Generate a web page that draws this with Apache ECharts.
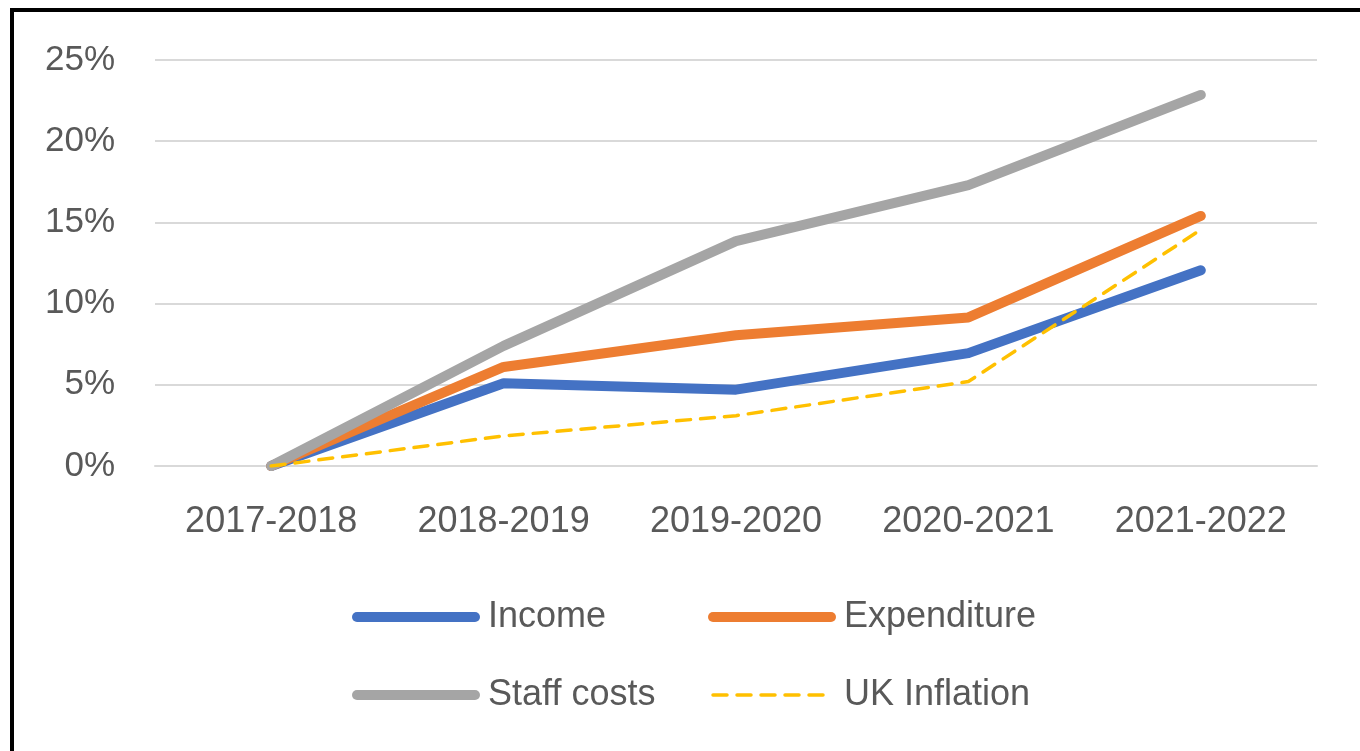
<!DOCTYPE html>
<html>
<head>
<meta charset="utf-8">
<script src="https://cdn.jsdelivr.net/npm/echarts@6/dist/echarts.min.js"></script>
<style>
  html, body { margin: 0; padding: 0; background: #fff; }
  #main { position: absolute; left: 0; top: 0; width: 1360px; height: 751px; }
  #frame { position: absolute; left: 10px; top: 8px; width: 1400px; height: 800px;
    border-left: 4px solid #000; border-top: 4px solid #000; pointer-events: none; }
</style>
</head>
<body>
<div id="main"></div>
<div id="frame"></div>
<script>
// years and % change since 2017-2018
const years = ['2017-2018', '2018-2019', '2019-2020', '2020-2021', '2021-2022']
const income = [0, 5.1, 4.7, 6.95, 12.05]
const expenditure = [0, 6.1, 8.05, 9.15, 15.4]
const staffCosts = [0, 7.4, 13.85, 17.3, 22.85]
const ukInflation = [0, 1.85, 3.1, 5.2, 14.55]

const labelFont = { fontFamily: 'Liberation Sans', fontSize: 36, color: '#595959' }

const myChart = echarts.init(document.getElementById('main'))

function lineSeries (name, data, color, width, type) {
  return {
    name: name,
    type: 'line',
    data: data,
    symbol: 'none',
    color: color,
    lineStyle: { width: width, color: color, type: type, cap: 'round', join: 'round' }
  }
}

const legendBase = {
  orient: 'vertical',
  top: 594,
  itemWidth: 118,
  itemHeight: 44,
  itemGap: 42,
  itemStyle: { opacity: 0, borderWidth: 0 },
  lineStyle: { width: 'inherit', type: 'inherit', cap: 'round' },
  textStyle: Object.assign({ padding: [0, 0, 0, 8] }, labelFont),
  selectedMode: false
}

const option = {
  animation: false,
  grid: { left: 155, right: 43, top: 60, bottom: 285 },
  legend: [
    Object.assign({ left: 347, data: ['Income', 'Staff costs'] }, legendBase),
    Object.assign({ left: 703, data: ['Expenditure', 'UK Inflation'] }, legendBase)
  ],
  xAxis: {
    type: 'category',
    data: years,
    boundaryGap: true,
    axisLine: { show: true, lineStyle: { color: '#d9d9d9', width: 2 } },
    axisTick: { show: false },
    axisLabel: Object.assign({ margin: 38 }, labelFont)
  },
  yAxis: {
    type: 'value',
    min: 0,
    max: 25,
    interval: 5,
    axisLine: { show: false },
    axisTick: { show: false },
    splitLine: { lineStyle: { color: '#d9d9d9', width: 2 } },
    axisLabel: Object.assign({ margin: 40, formatter: '{value}%' }, labelFont, { fontSize: 35 })
  },
  series: [
    lineSeries('Income', income, '#4472c4', 10, 'solid'),
    lineSeries('Expenditure', expenditure, '#ed7d31', 10, 'solid'),
    lineSeries('Staff costs', staffCosts, '#a5a5a5', 10, 'solid'),
    lineSeries('UK Inflation', ukInflation, '#ffc000', 3.5, [14, 10])
  ]
}

myChart.setOption(option)
</script>
</body>
</html>
